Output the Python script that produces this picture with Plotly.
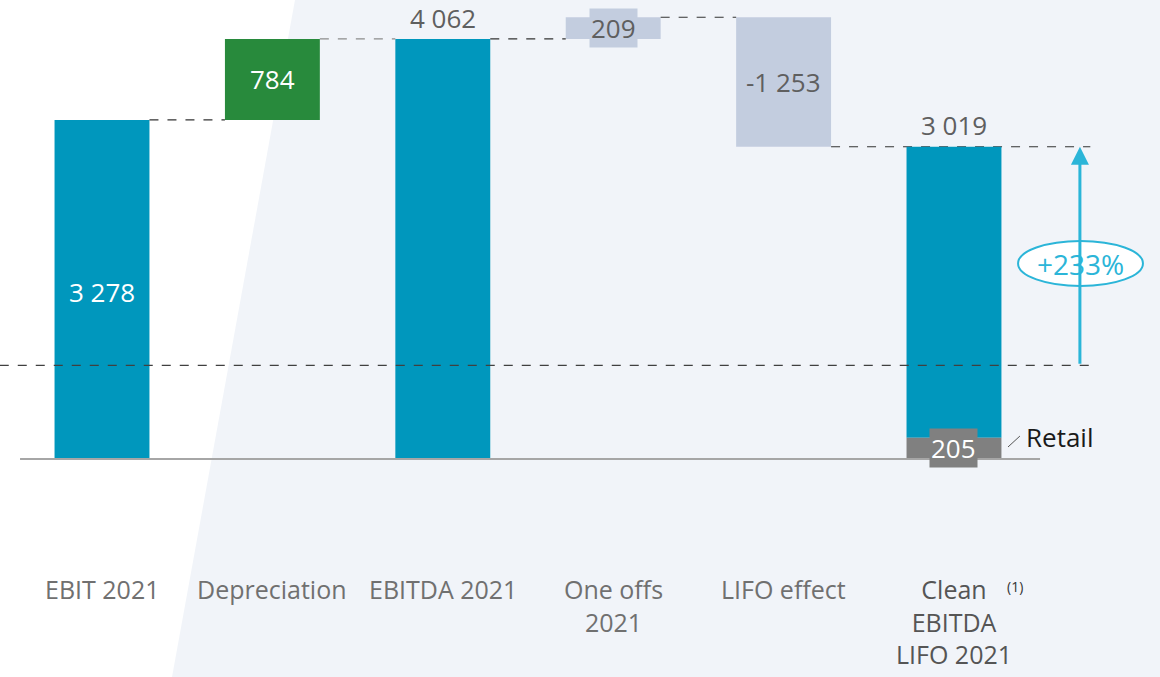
import plotly.graph_objects as go

# ---- data (EUR m) ----
categories = ["EBIT 2021", "Depreciation", "EBITDA 2021", "One offs 2021", "LIFO effect", "Clean EBITDA LIFO 2021"]
cat_labels = ["EBIT 2021", "Depreciation", "EBITDA 2021", "One offs<br>2021", "LIFO effect", "Clean<br>EBITDA<br>LIFO 2021"]
ebit = 3278
depreciation = 784
ebitda = 4062
one_offs = 209
lifo_effect = -1253
clean_ebitda = 3019
retail = 205
prior_clean_ebitda = 906
growth_label = "+233%"

after_one_offs = ebitda + one_offs

TEAL = "#0097BD"
GREEN = "#288A3C"
LIGHT = "#C3CDDF"
GREY = "#808080"
CYAN = "#2BB5D8"
TXT = "#5F5F5F"
FONT = "Open Sans"
BW = 0.557          # bar width in category units
H = BW / 2


def fmt(v):
    return f"{v:,}".replace(",", " ")


bases = [0, ebit, 0, ebitda, after_one_offs, retail]
heights = [ebit, depreciation, ebitda, one_offs, lifo_effect, clean_ebitda - retail]
colors = [TEAL, GREEN, TEAL, LIGHT, LIGHT, TEAL]

fig = go.Figure()
fig.add_trace(go.Bar(x=categories, y=heights, base=bases, width=BW,
                     marker=dict(color=colors, line=dict(width=0)), hoverinfo="skip"))
fig.add_trace(go.Bar(x=[categories[5]], y=[retail], base=[0], width=BW,
                     marker=dict(color=GREY, line=dict(width=0)), hoverinfo="skip"))

shapes = []
# slanted light background panel
shapes.append(dict(type="path", xref="paper", yref="paper",
                   path="M 0.2543,1 L 1,1 L 1,0 L 0.1483,0 Z",
                   fillcolor="#F1F4F9", line=dict(width=0), layer="below"))


def hline(y, x0, x1, color="#333333", dash="dash", width=1.2, layer="above"):
    shapes.append(dict(type="line", xref="x", yref="y", x0=x0, x1=x1, y0=y, y1=y,
                       line=dict(color=color, width=width, dash=dash), layer=layer))


# connectors between steps
hline(ebit, 0 + H, 1 - H)
hline(ebitda, 1 + H, 2 - H, color="#8C8C8C")
hline(ebitda, 2 + H, 3 - H)
hline(after_one_offs, 3 + H, 4 - H)
hline(clean_ebitda, 4 + H, 5.80, layer="below")
# previous-year reference level
hline(prior_clean_ebitda, -0.6, 5.80, color="#404040", width=1.3)
# baseline
hline(0, -0.481, 5.505, color="#A6A6A6", dash="solid", width=2)
# tick to the Retail label
shapes.append(dict(type="line", xref="x", yref="y", x0=5.317, x1=5.387, y0=116, y1=222,
                   line=dict(color="#555555", width=1)))
# ellipse around the growth figure
shapes.append(dict(type="circle", xref="x", yref="y", x0=5.376, x1=6.109, y0=1673, y1=2108,
                   fillcolor="white", line=dict(color=CYAN, width=2), layer="above"))

ann = []


def label(x, y, text, color=TXT, size=26, **kw):
    d = dict(x=x, y=y, xref="x", yref="y", text=text, showarrow=False,
             font=dict(family=FONT, size=size, color=color))
    d.update(kw)
    ann.append(d)


# growth arrow
ann.append(dict(x=5.739, y=clean_ebitda, ax=5.739, ay=prior_clean_ebitda, xref="x", yref="y",
                axref="x", ayref="y", text="", showarrow=True, arrowhead=2, arrowsize=1.2,
                arrowwidth=3, arrowcolor=CYAN, standoff=0, startstandoff=0))

label(0, 1615, fmt(ebit), color="white")
label(1, ebit + depreciation / 2, fmt(depreciation), color="white")
label(2, 4264, fmt(ebitda))
label(3, ebitda + one_offs / 2, fmt(one_offs), bgcolor=LIGHT, borderpad=1)
label(4, after_one_offs + lifo_effect / 2, fmt(lifo_effect))
label(5, 3230, fmt(clean_ebitda))
label(5, retail / 2, fmt(retail), color="white", bgcolor=GREY, borderpad=1)
label(5.62, 213, "Retail", color="#1A1A1A", size=26)
label(5.743, 1890, growth_label, color=CYAN, size=28)

# category labels under the axis
for i, t in enumerate(cat_labels):
    col = "#555555" if i == 5 else "#707070"
    label(i, -1085, t, color=col, size=25, yanchor="top", align="center", borderpad=0)
label(5.36, -1235, "(1)", color="#333333", size=14)

fig.update_layout(
    width=1160, height=677, margin=dict(l=0, r=0, t=0, b=0),
    paper_bgcolor="white", plot_bgcolor="rgba(0,0,0,0)",
    barmode="overlay", showlegend=False,
    xaxis=dict(type="category", categoryorder="array", categoryarray=categories,
               range=[-0.5986, 6.209], visible=False, fixedrange=True),
    yaxis=dict(range=[-2108, 4438], visible=False, fixedrange=True),
    shapes=shapes, annotations=ann,
)
fig.write_html("out.html")
